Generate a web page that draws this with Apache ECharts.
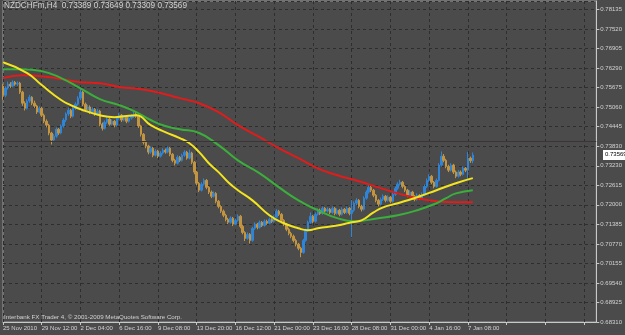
<!DOCTYPE html>
<html>
<head>
<meta charset="utf-8">
<script src="https://cdn.jsdelivr.net/npm/echarts@6/dist/echarts.min.js"></script>
<style>
  html, body { margin: 0; padding: 0; background: #4b4b4b; }
  #chart { width: 625px; height: 335px; }
</style>
</head>
<body>
<div id="chart"></div>
<script>
// NZDCHFm, H4 bars, 25 Nov 2010 - 7 Jan 2011
const xTickLabels = ['25 Nov 2010', '29 Nov 12:00', '2 Dec 04:00', '6 Dec 16:00', '9 Dec 08:00',
  '13 Dec 20:00', '16 Dec 12:00', '21 Dec 00:00', '23 Dec 16:00', '28 Dec 08:00',
  '31 Dec 00:00', '4 Jan 16:00', '7 Jan 08:00'];
// price scale labels, bottom to top, as the terminal printed them
const yTickLabels = ['0.68310', '0.68925', '0.69540', '0.70155', '0.70770', '0.71385', '0.72000',
  '0.72615', '0.73230', '0.73830', '0.74445', '0.75060', '0.75675', '0.76290', '0.76905',
  '0.77520', '0.78135'];
const slotCount = 246;

const opens = [
  0.7574, 0.7545, 0.7568, 0.7580, 0.7574, 0.7586, 0.7580, 0.7583, 0.7555, 0.7520,
  0.7504, 0.7527, 0.7539, 0.7520, 0.7511, 0.7492, 0.7504, 0.7482, 0.7463, 0.7451,
  0.7426, 0.7404, 0.7416, 0.7438, 0.7426, 0.7448, 0.7467, 0.7486, 0.7498, 0.7479,
  0.7504, 0.7517, 0.7536, 0.7555, 0.7517, 0.7498, 0.7508, 0.7492, 0.7501, 0.7486,
  0.7495, 0.7454, 0.7441, 0.7460, 0.7470, 0.7454, 0.7463, 0.7451, 0.7473, 0.7482,
  0.7467, 0.7476, 0.7463, 0.7473, 0.7479, 0.7486, 0.7479, 0.7448, 0.7422, 0.7397,
  0.7385, 0.7366, 0.7378, 0.7356, 0.7369, 0.7353, 0.7363, 0.7372, 0.7366, 0.7378,
  0.7359, 0.7340, 0.7331, 0.7350, 0.7340, 0.7356, 0.7366, 0.7347, 0.7363, 0.7334,
  0.7303, 0.7268, 0.7246, 0.7265, 0.7277, 0.7255, 0.7240, 0.7227, 0.7236, 0.7211,
  0.7195, 0.7180, 0.7167, 0.7154, 0.7145, 0.7158, 0.7139, 0.7151, 0.7164, 0.7132,
  0.7113, 0.7094, 0.7107, 0.7088, 0.7126, 0.7139, 0.7129, 0.7145, 0.7135, 0.7148,
  0.7142, 0.7154, 0.7148, 0.7161, 0.7180, 0.7170, 0.7151, 0.7139, 0.7123, 0.7110,
  0.7101, 0.7088, 0.7076, 0.7063, 0.7050, 0.7088, 0.7120, 0.7145, 0.7164, 0.7148,
  0.7170, 0.7183, 0.7173, 0.7189, 0.7180, 0.7186, 0.7176, 0.7189, 0.7173, 0.7183,
  0.7170, 0.7186, 0.7176, 0.7189, 0.7173, 0.7183, 0.7205, 0.7214, 0.7195, 0.7186,
  0.7221, 0.7240, 0.7255, 0.7246, 0.7230, 0.7214, 0.7202, 0.7217, 0.7227, 0.7214,
  0.7224, 0.7211, 0.7233, 0.7252, 0.7265, 0.7271, 0.7258, 0.7246, 0.7230, 0.7240,
  0.7227, 0.7217, 0.7230, 0.7221, 0.7233, 0.7258, 0.7277, 0.7290, 0.7271, 0.7258,
  0.7277, 0.7325, 0.7353, 0.7340, 0.7321, 0.7309, 0.7325, 0.7303, 0.7290, 0.7303,
  0.7296, 0.7315, 0.7309, 0.7347, 0.73389
];
const closes = [
  0.7545, 0.7568, 0.7580, 0.7574, 0.7586, 0.7580, 0.7583, 0.7555, 0.7520, 0.7504,
  0.7527, 0.7539, 0.7520, 0.7511, 0.7492, 0.7504, 0.7482, 0.7463, 0.7451, 0.7426,
  0.7404, 0.7416, 0.7438, 0.7426, 0.7448, 0.7467, 0.7486, 0.7498, 0.7479, 0.7504,
  0.7517, 0.7536, 0.7555, 0.7517, 0.7498, 0.7508, 0.7492, 0.7501, 0.7486, 0.7495,
  0.7454, 0.7441, 0.7460, 0.7470, 0.7454, 0.7463, 0.7451, 0.7473, 0.7482, 0.7467,
  0.7476, 0.7463, 0.7473, 0.7479, 0.7486, 0.7479, 0.7448, 0.7422, 0.7397, 0.7385,
  0.7366, 0.7378, 0.7356, 0.7369, 0.7353, 0.7363, 0.7372, 0.7366, 0.7378, 0.7359,
  0.7340, 0.7331, 0.7350, 0.7340, 0.7356, 0.7366, 0.7347, 0.7363, 0.7334, 0.7303,
  0.7268, 0.7246, 0.7265, 0.7277, 0.7255, 0.7240, 0.7227, 0.7236, 0.7211, 0.7195,
  0.7180, 0.7167, 0.7154, 0.7145, 0.7158, 0.7139, 0.7151, 0.7164, 0.7132, 0.7113,
  0.7094, 0.7107, 0.7088, 0.7126, 0.7139, 0.7129, 0.7145, 0.7135, 0.7148, 0.7142,
  0.7154, 0.7148, 0.7161, 0.7180, 0.7170, 0.7151, 0.7139, 0.7123, 0.7110, 0.7101,
  0.7088, 0.7076, 0.7063, 0.7050, 0.7088, 0.7120, 0.7145, 0.7164, 0.7148, 0.7170,
  0.7183, 0.7173, 0.7189, 0.7180, 0.7186, 0.7176, 0.7189, 0.7173, 0.7183, 0.7170,
  0.7186, 0.7176, 0.7189, 0.7173, 0.7183, 0.7205, 0.7214, 0.7195, 0.7186, 0.7221,
  0.7240, 0.7255, 0.7246, 0.7230, 0.7214, 0.7202, 0.7217, 0.7227, 0.7214, 0.7224,
  0.7211, 0.7233, 0.7252, 0.7265, 0.7271, 0.7258, 0.7246, 0.7230, 0.7240, 0.7227,
  0.7217, 0.7230, 0.7221, 0.7233, 0.7258, 0.7277, 0.7290, 0.7271, 0.7258, 0.7277,
  0.7325, 0.7353, 0.7340, 0.7321, 0.7309, 0.7325, 0.7303, 0.7290, 0.7303, 0.7296,
  0.7315, 0.7309, 0.7347, 0.73389, 0.73569
];
const highs = [
  0.7580, 0.7573, 0.7588, 0.7586, 0.7592, 0.7590, 0.7589, 0.7587, 0.7559, 0.7526,
  0.7533, 0.7546, 0.7542, 0.7528, 0.7515, 0.7510, 0.7508, 0.7487, 0.7469, 0.7455,
  0.7430, 0.7423, 0.7444, 0.7442, 0.7453, 0.7473, 0.7491, 0.7506, 0.7502, 0.7509,
  0.7523, 0.7542, 0.7566, 0.7559, 0.7522, 0.7515, 0.7513, 0.7507, 0.7505, 0.7502,
  0.7499, 0.7459, 0.7466, 0.7476, 0.7474, 0.7469, 0.7467, 0.7478, 0.7489, 0.7486,
  0.7482, 0.7480, 0.7479, 0.7485, 0.7493, 0.7494, 0.7483, 0.7452, 0.7426, 0.7403,
  0.7389, 0.7384, 0.7382, 0.7375, 0.7373, 0.7369, 0.7378, 0.7377, 0.7384, 0.7382,
  0.7363, 0.7345, 0.7356, 0.7354, 0.7361, 0.7372, 0.7370, 0.7374, 0.7367, 0.7338,
  0.7307, 0.7272, 0.7271, 0.7283, 0.7281, 0.7259, 0.7245, 0.7242, 0.7240, 0.7215,
  0.7199, 0.7185, 0.7172, 0.7159, 0.7164, 0.7162, 0.7157, 0.7170, 0.7168, 0.7137,
  0.7117, 0.7113, 0.7111, 0.7131, 0.7145, 0.7143, 0.7151, 0.7149, 0.7154, 0.7153,
  0.7160, 0.7158, 0.7167, 0.7186, 0.7184, 0.7174, 0.7155, 0.7143, 0.7128, 0.7115,
  0.7106, 0.7093, 0.7080, 0.7068, 0.7093, 0.7125, 0.7150, 0.7176, 0.7168, 0.7176,
  0.7189, 0.7188, 0.7195, 0.7193, 0.7192, 0.7190, 0.7195, 0.7193, 0.7189, 0.7187,
  0.7192, 0.7190, 0.7195, 0.7193, 0.7215, 0.7211, 0.7221, 0.7218, 0.7200, 0.7227,
  0.7246, 0.7262, 0.7260, 0.7250, 0.7234, 0.7218, 0.7223, 0.7233, 0.7231, 0.7230,
  0.7228, 0.7239, 0.7258, 0.7271, 0.7279, 0.7275, 0.7262, 0.7250, 0.7246, 0.7244,
  0.7231, 0.7236, 0.7234, 0.7239, 0.7264, 0.7283, 0.7296, 0.7294, 0.7275, 0.7283,
  0.7331, 0.7368, 0.7360, 0.7345, 0.7326, 0.7331, 0.7329, 0.7308, 0.7309, 0.7308,
  0.7321, 0.7319, 0.7367, 0.7352, 0.73649
];
const lows = [
  0.7531, 0.7539, 0.7563, 0.7568, 0.7570, 0.7575, 0.7574, 0.7549, 0.7512, 0.7497,
  0.7500, 0.7521, 0.7514, 0.7505, 0.7486, 0.7488, 0.7476, 0.7457, 0.7444, 0.7419,
  0.7390, 0.7398, 0.7411, 0.7420, 0.7422, 0.7443, 0.7461, 0.7480, 0.7473, 0.7475,
  0.7499, 0.7512, 0.7530, 0.7511, 0.7492, 0.7493, 0.7486, 0.7488, 0.7480, 0.7482,
  0.7447, 0.7434, 0.7437, 0.7455, 0.7449, 0.7450, 0.7444, 0.7446, 0.7468, 0.7461,
  0.7463, 0.7457, 0.7459, 0.7468, 0.7474, 0.7474, 0.7442, 0.7415, 0.7390, 0.7378,
  0.7359, 0.7361, 0.7350, 0.7352, 0.7347, 0.7349, 0.7358, 0.7361, 0.7362, 0.7353,
  0.7334, 0.7324, 0.7327, 0.7335, 0.7336, 0.7351, 0.7342, 0.7343, 0.7328, 0.7296,
  0.7261, 0.7240, 0.7242, 0.7260, 0.7249, 0.7234, 0.7221, 0.7223, 0.7205, 0.7189,
  0.7174, 0.7161, 0.7148, 0.7139, 0.7141, 0.7133, 0.7135, 0.7147, 0.7126, 0.7107,
  0.7086, 0.7090, 0.7078, 0.7084, 0.7121, 0.7123, 0.7125, 0.7130, 0.7131, 0.7137,
  0.7138, 0.7143, 0.7144, 0.7157, 0.7165, 0.7145, 0.7133, 0.7117, 0.7104, 0.7095,
  0.7082, 0.7069, 0.7057, 0.7035, 0.7046, 0.7084, 0.7115, 0.7140, 0.7142, 0.7144,
  0.7166, 0.7168, 0.7169, 0.7175, 0.7176, 0.7171, 0.7172, 0.7167, 0.7169, 0.7164,
  0.7166, 0.7171, 0.7172, 0.7167, 0.7098, 0.7178, 0.7199, 0.7189, 0.7179, 0.7182,
  0.7216, 0.7235, 0.7240, 0.7224, 0.7208, 0.7195, 0.7198, 0.7212, 0.7208, 0.7210,
  0.7205, 0.7207, 0.7228, 0.7247, 0.7260, 0.7252, 0.7240, 0.7224, 0.7226, 0.7221,
  0.7211, 0.7213, 0.7215, 0.7217, 0.7229, 0.7253, 0.7272, 0.7265, 0.7252, 0.7254,
  0.7273, 0.7320, 0.7334, 0.7315, 0.7303, 0.7305, 0.7297, 0.7284, 0.7286, 0.7290,
  0.7292, 0.7303, 0.7282, 0.7332, 0.73309
];

// moving averages, sampled as [bar index, price]
const maYellow = [[0, 0.7649], [10, 0.7615], [16, 0.7577], [24, 0.7530], [28, 0.7514], [32, 0.7501],
  [40, 0.7482], [46, 0.7476], [50, 0.7479], [55, 0.7482], [61, 0.7451], [67, 0.7429], [73, 0.7410],
  [77, 0.7394], [81, 0.7366], [85, 0.7331], [89, 0.7303], [93, 0.7271], [97, 0.7246], [103, 0.7214],
  [110, 0.7167], [115, 0.7145], [122, 0.7126], [126, 0.7120], [130, 0.7126], [138, 0.7135],
  [144, 0.7145], [148, 0.7151], [153, 0.7176], [157, 0.7192], [163, 0.7205], [171, 0.7224],
  [179, 0.7246], [187, 0.7268], [194, 0.7284]];
const maGreen = [[0, 0.7627], [8, 0.7627], [16, 0.7621], [24, 0.7599], [32, 0.7567], [40, 0.7533],
  [48, 0.7514], [55, 0.7492], [61, 0.7467], [67, 0.7448], [73, 0.7438], [81, 0.7426], [89, 0.7388],
  [97, 0.7340], [106, 0.7299], [114, 0.7255], [122, 0.7214], [130, 0.7183], [138, 0.7158],
  [145, 0.7148], [155, 0.7158], [163, 0.7167], [171, 0.7183], [179, 0.7205], [183, 0.7221],
  [187, 0.7236], [194, 0.7246]];
const maRed = [[0, 0.7599], [8, 0.7608], [16, 0.7605], [24, 0.7596], [32, 0.7586], [40, 0.7583],
  [48, 0.7571], [57, 0.7564], [65, 0.7552], [73, 0.7536], [81, 0.7520], [89, 0.7492], [97, 0.7451],
  [106, 0.7413], [114, 0.7378], [122, 0.7347], [130, 0.7315], [138, 0.7293], [147, 0.7274],
  [155, 0.7255], [163, 0.7236], [171, 0.7221], [179, 0.7211], [187, 0.7208], [194, 0.7208]];

const priceMin = 0.68310;
const priceMax = 0.78418;
const priceStep = 0.00615;
const bid = 0.73569;

const categories = [];
for (let i = 0; i < slotCount; i++) categories.push(String(i));
const candles = opens.map((o, i) => [o, closes[i], lows[i], highs[i]]);

const textColor = '#d2d2d2';
const fontFamily = 'Liberation Sans, Arial, sans-serif';

const chart = echarts.init(document.getElementById('chart'), null, { renderer: 'canvas' });
chart.setOption({
  animation: false,
  backgroundColor: '#4b4b4b',
  textStyle: { fontFamily },
  grid: {
    left: 1, right: 23, top: 1, bottom: 13,
    show: true, backgroundColor: '#4b4b4b', borderColor: '#9a9a9a', borderWidth: 1
  },
  xAxis: {
    type: 'category',
    data: categories,
    boundaryGap: false,
    axisLine: { lineStyle: { color: '#c8c8c8' } },
    axisTick: { interval: 15, length: 3, lineStyle: { color: '#c8c8c8' } },
    axisLabel: {
      interval: 15, align: 'left', margin: 3, fontSize: 6, color: textColor,
      formatter: (v, idx) => xTickLabels[idx / 16] || ''
    },
    splitLine: {
      show: true, interval: 15,
      lineStyle: { color: '#2e2e2e', type: [3, 3], width: 1 }
    }
  },
  yAxis: {
    type: 'value',
    position: 'right',
    min: priceMin, max: priceMax, interval: priceStep,
    axisLine: { show: true, lineStyle: { color: '#c8c8c8' } },
    axisTick: { show: true, length: 3, lineStyle: { color: '#c8c8c8' } },
    axisLabel: {
      margin: 4, fontSize: 6, color: textColor, showMaxLabel: false,
      formatter: v => yTickLabels[Math.round((v - priceMin) / priceStep)] || ''
    },
    splitLine: { lineStyle: { color: '#2e2e2e', type: [3, 3], width: 1 } }
  },
  series: [
    {
      type: 'candlestick',
      data: candles,
      barWidth: 2,
      itemStyle: {
        color: '#2f84d6', color0: '#c39540',
        borderColor: '#2f84d6', borderColor0: '#c39540', borderWidth: 1
      },
      markLine: {
        symbol: 'none', silent: true,
        lineStyle: { color: '#3b3535', type: 'solid', width: 1 },
        label: { show: false },
        data: [{ yAxis: bid }]
      }
    },
    { type: 'line', data: maRed, smooth: true, symbol: 'none', lineStyle: { color: '#e21b1b', width: 2 } },
    { type: 'line', data: maGreen, smooth: true, symbol: 'none', lineStyle: { color: '#3cae3c', width: 2 } },
    { type: 'line', data: maYellow, smooth: true, symbol: 'none', lineStyle: { color: '#f2e41e', width: 2 } }
  ]
});

// header, footer and the bid price tag (tag placed through the axis scale)
const bidY = chart.convertToPixel({ yAxisIndex: 0 }, bid);
chart.setOption({
  graphic: [
    { id: 'header', type: 'text', left: 4, top: 2, style: {
      text: 'NZDCHFm,H4  0.73389 0.73649 0.73309 0.73569',
      fill: textColor, font: '8.2px ' + fontFamily } },
    { id: 'footer', type: 'text', left: 4, top: 314, style: {
      text: 'Interbank FX Trader 4, \u00a9 2001-2009 MetaQuotes Software Corp.',
      fill: textColor, font: '6.2px ' + fontFamily } },
    { id: 'bidBox', type: 'rect', left: 603, top: bidY - 5, z: 10,
      shape: { width: 22, height: 10 }, style: { fill: '#ffffff' } },
    { id: 'bidText', type: 'text', left: 605, top: bidY - 3.5, z: 11,
      style: { text: bid.toFixed(5), fill: '#000000', font: '6px ' + fontFamily } }
  ]
});
</script>
</body>
</html>
